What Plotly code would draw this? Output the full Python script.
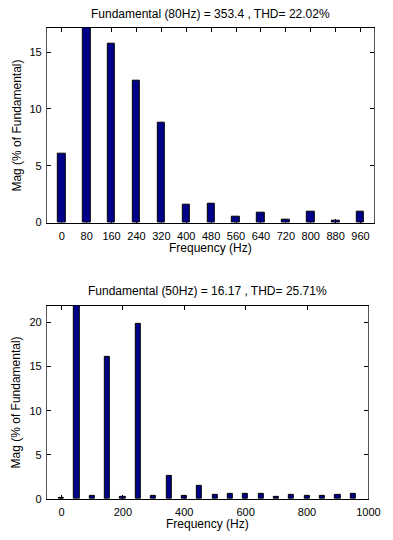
import plotly.graph_objects as go

# Top chart (80 Hz fundamental)
freq_top = [0, 80, 160, 240, 320, 400, 480, 560, 640, 720, 800, 880, 960]
mag_top = [6.1, 100, 15.7, 12.5, 8.78, 1.57, 1.66, 0.5, 0.85, 0.26, 0.93, 0.17, 0.99]
title_top = "Fundamental (80Hz) = 353.4 , THD= 22.02%"

# Bottom chart (50 Hz fundamental)
freq_bot = [0, 50, 100, 150, 200, 250, 300, 350, 400, 450, 500, 550, 600, 650,
            700, 750, 800, 850, 900, 950]
mag_bot = [0.15, 100, 0.3, 16.1, 0.2, 19.9, 0.3, 2.62, 0.3, 1.46, 0.45, 0.56, 0.56,
           0.56, 0.26, 0.45, 0.37, 0.37, 0.45, 0.56]
title_bot = "Fundamental (50Hz) = 16.17 , THD= 25.71%"

xlabel = "Frequency (Hz)"
ylabel = "Mag (% of Fundamental)"

W, H = 393, 540
FONT = "Liberation Sans, Arial, sans-serif"
BAR = "#000088"


def px(x):
    return x / W


def py(y):
    return 1 - y / H


fig = go.Figure()
fig.add_trace(go.Bar(x=freq_top, y=mag_top, width=24, marker=dict(color=BAR, line=dict(color="black", width=1)),
                     xaxis="x", yaxis="y", showlegend=False))
fig.add_trace(go.Bar(x=freq_bot, y=mag_bot, width=17, marker=dict(color=BAR, line=dict(color="black", width=1)),
                     xaxis="x2", yaxis="y2", showlegend=False))

axis_common = dict(showgrid=False, zeroline=False, showline=True, mirror="ticks", ticks="inside",
                   ticklen=4, tickwidth=1, tickcolor="black", layer="below traces",
                   tickfont=dict(family=FONT, size=11, color="black"))

fig.update_layout(
    width=W, height=H,
    margin=dict(l=0, r=0, t=0, b=0),
    paper_bgcolor="white", plot_bgcolor="white",
    bargap=0,
    xaxis=dict(domain=[px(48.3), px(385.7)], range=[-48, 1003], tickvals=freq_top, anchor="y",
               linecolor="black", ticklabelstandoff=3, **axis_common),
    yaxis=dict(domain=[py(225), py(28)], range=[0, 17.15], tickvals=[0, 5, 10, 15], anchor="x",
               linecolor="#555555", ticklabelstandoff=2, **axis_common),
    xaxis2=dict(domain=[px(48.3), px(380)], range=[-48, 1000], tickvals=[0, 200, 400, 600, 800, 1000],
                anchor="y2", linecolor="black", ticklabelstandoff=3, **axis_common),
    yaxis2=dict(domain=[py(504.3), py(309.3)], range=[0, 21.9], tickvals=[0, 5, 10, 15, 20], anchor="x2",
                linecolor="#555555", ticklabelstandoff=2, **axis_common),
)

tfont = dict(family=FONT, size=12, color="black")
ann = [
    dict(text=title_top, x=px(217), y=py(14), xref="paper", yref="paper", showarrow=False, font=tfont,
         xanchor="center", yanchor="middle"),
    dict(text=xlabel, x=px(217), y=py(250.5), xref="paper", yref="paper", showarrow=False, font=tfont,
         xanchor="center", yanchor="middle"),
    dict(text=ylabel, x=px(17.5), y=py(127), xref="paper", yref="paper", showarrow=False, font=tfont,
         textangle=-90, xanchor="center", yanchor="middle"),
    dict(text=title_bot, x=px(214), y=py(294), xref="paper", yref="paper", showarrow=False, font=tfont,
         xanchor="center", yanchor="middle"),
    dict(text=xlabel, x=px(214), y=py(530), xref="paper", yref="paper", showarrow=False, font=tfont,
         xanchor="center", yanchor="middle"),
    dict(text=ylabel, x=px(17.5), y=py(407), xref="paper", yref="paper", showarrow=False, font=tfont,
         textangle=-90, xanchor="center", yanchor="middle"),
]
fig.update_layout(annotations=ann)

fig.write_html("out.html")
